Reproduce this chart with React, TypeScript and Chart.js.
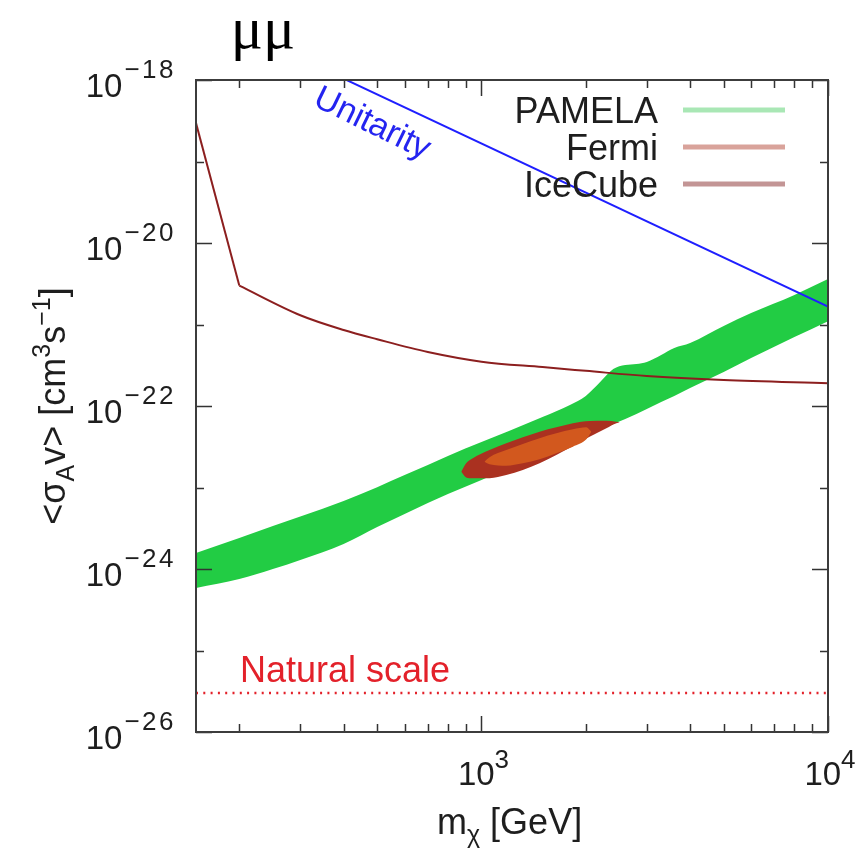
import React, { useEffect, useRef } from 'react';
import { Chart, registerables } from 'chart.js';

Chart.register(...registerables);

const SANS = '"Liberation Sans", Arial, Helvetica, sans-serif';
const SERIF = '"Liberation Serif", "Times New Roman", serif';

// Axis ranges
const massMin = 150;
const massMax = 10000;
const sigmaMin = 1e-26;
const sigmaMax = 1e-18;

// Tick marks and labels
const xMajorTicks = [1000, 10000];
const xTickExponents = ['3', '4'];
const xMinorTicks = [200, 300, 400, 500, 600, 700, 800, 900, 2000, 3000, 4000, 5000, 6000, 7000, 8000, 9000];
const yMajorTicks = [1e-26, 1e-24, 1e-22, 1e-20, 1e-18];
const yTickExponents = ['\u221226', '\u221224', '\u221222', '\u221220', '\u221218'];
const yMinorTicks = [1e-25, 1e-23, 1e-21, 1e-19];

// PAMELA-favoured band (upper and lower edges)
const pamelaMass = [150, 200, 250, 300, 400, 500, 600, 700, 800, 1000, 1200, 1500, 1800, 2000, 2200, 2400, 2600, 2800, 3000, 3300, 3600, 4000, 5000, 6000, 8000, 10000];
const pamelaUpper = [1.57e-24, 2.4e-24, 3.37e-24, 4.41e-24, 6.83e-24, 1.01e-23, 1.42e-23, 1.89e-23, 2.44e-23, 3.62e-23, 4.93e-23, 7.33e-23, 1.03e-22, 1.33e-22, 1.97e-22, 2.84e-22, 3.18e-22, 3.28e-22, 3.47e-22, 4.23e-22, 5.15e-22, 5.93e-22, 9.59e-22, 1.38e-21, 2.3e-21, 3.61e-21];
const pamelaLower = [5.85e-25, 7.54e-25, 1.0e-24, 1.29e-24, 2.03e-24, 3.28e-24, 4.73e-24, 6.45e-24, 8.32e-24, 1.24e-23, 1.73e-23, 2.58e-23, 3.62e-23, 4.35e-23, 5.22e-23, 6.02e-23, 6.92e-23, 7.98e-23, 9.18e-23, 1.12e-22, 1.33e-22, 1.66e-22, 2.61e-22, 3.88e-22, 7.03e-22, 1.1e-21];

// Combined fit contours (outer and inner regions)
const outerMass = [874, 903, 944, 1055, 1179, 1316, 1471, 1644, 1836, 2051, 2293, 2451, 2506];
const outerTop = [1.56e-23, 1.98e-23, 2.28e-23, 2.88e-23, 3.48e-23, 4.13e-23, 4.84e-23, 5.48e-23, 6.14e-23, 6.55e-23, 6.6e-23, 6.42e-23, 6.31e-23];
const outerBottom = [1.56e-23, 1.33e-23, 1.3e-23, 1.3e-23, 1.42e-23, 1.64e-23, 1.98e-23, 2.51e-23, 3.23e-23, 4.2e-23, 5.33e-23, 6.14e-23, 6.31e-23];
const innerMass = [1020, 1055, 1179, 1316, 1471, 1644, 1836, 2007, 2075];
const innerTop = [2.07e-23, 2.35e-23, 2.88e-23, 3.42e-23, 4.02e-23, 4.62e-23, 5.18e-23, 5.48e-23, 4.84e-23];
const innerBottom = [2.07e-23, 1.93e-23, 1.85e-23, 1.98e-23, 2.22e-23, 2.63e-23, 3.17e-23, 3.9e-23, 4.84e-23];

// IceCube limit
const iceCubeMass = [150, 200, 300, 400, 500, 700, 1000, 1500, 2000, 3000, 5000, 10000];
const iceCubeSigma = [2.96e-19, 3.0e-21, 1.3e-21, 8.57e-22, 6.6e-22, 4.6e-22, 3.5e-22, 3.0e-22, 2.7e-22, 2.33e-22, 2.08e-22, 1.9e-22];

// Unitarity bound
const unitarityMass = [400, 10000];
const unitaritySigma = [1.04e-18, 1.66e-21];

// Thermal relic cross section
const naturalMass = [150, 10000];
const naturalSigma = [3e-26, 3e-26];

// Legend
const legendLabels = ['PAMELA', 'Fermi', 'IceCube'];
const legendColors = ['#a9e7b5', '#d9a39b', '#c39595'];

const GREEN = '#22cc44';
const OUTER = '#aa3120';
const INNER = '#d2581e';
const TEXT = '#1e1e1e';

const pts = (xs: number[], ys: number[]) => xs.map((x, i) => ({ x, y: ys[i] }));

type Run = { text: string; size: number; dy?: number; family?: string; spacing?: number; gap?: number };

function setFont(ctx: CanvasRenderingContext2D, r: Run) {
  ctx.font = `${r.size}px ${r.family || SANS}`;
  (ctx as any).letterSpacing = `${r.spacing || 0}px`;
}

function runWidth(ctx: CanvasRenderingContext2D, runs: Run[]) {
  let w = 0;
  for (const r of runs) {
    setFont(ctx, r);
    w += ctx.measureText(r.text).width + (r.gap || 0);
  }
  return w;
}

function drawRuns(ctx: CanvasRenderingContext2D, runs: Run[], x: number, y: number, align: 'left' | 'center' | 'right') {
  const w = runWidth(ctx, runs);
  let cx = align === 'right' ? x - w : align === 'center' ? x - w / 2 : x;
  ctx.textAlign = 'left';
  ctx.textBaseline = 'alphabetic';
  for (const r of runs) {
    setFont(ctx, r);
    cx += r.gap || 0;
    ctx.fillText(r.text, cx, y + (r.dy || 0));
    cx += ctx.measureText(r.text).width;
  }
  (ctx as any).letterSpacing = '0px';
}

const decorations = {
  id: 'decorations',
  afterDatasetsDraw(chart: any) {
    const { ctx, chartArea: a, scales } = chart;
    const xs = scales.x;
    const ys = scales.y;
    ctx.save();

    // Tick marks on all four sides, pointing inwards
    ctx.strokeStyle = '#333';
    ctx.lineWidth = 1.5;
    const tickX = (v: number, len: number) => {
      const px = Math.round(xs.getPixelForValue(v)) + 0.5;
      ctx.beginPath();
      ctx.moveTo(px, a.bottom);
      ctx.lineTo(px, a.bottom - len);
      ctx.moveTo(px, a.top);
      ctx.lineTo(px, a.top + len);
      ctx.stroke();
    };
    const tickY = (v: number, len: number) => {
      const py = Math.round(ys.getPixelForValue(v)) + 0.5;
      ctx.beginPath();
      ctx.moveTo(a.left, py);
      ctx.lineTo(a.left + len, py);
      ctx.moveTo(a.right, py);
      ctx.lineTo(a.right - len, py);
      ctx.stroke();
    };
    xMinorTicks.forEach((v) => tickX(v, 8));
    xMajorTicks.forEach((v) => tickX(v, 16));
    yMinorTicks.forEach((v) => tickY(v, 8));
    yMajorTicks.forEach((v) => tickY(v, 16));

    // Frame
    ctx.strokeStyle = '#3c3c3c';
    ctx.lineWidth = 2;
    ctx.strokeRect(a.left, a.top, a.right - a.left, a.bottom - a.top);

    // Tick labels
    ctx.fillStyle = TEXT;
    yMajorTicks.forEach((v, i) => {
      const py = ys.getPixelForValue(v);
      drawRuns(ctx, [
        { text: '10', size: 33 },
        { text: yTickExponents[i], size: 26, dy: -19, spacing: 2.5, gap: 2 },
      ], 176, py + 17, 'right');
    });
    xMajorTicks.forEach((v, i) => {
      const px = xs.getPixelForValue(v);
      drawRuns(ctx, [
        { text: '10', size: 33 },
        { text: xTickExponents[i], size: 26, dy: -17 },
      ], px + 2, a.bottom + 53, 'center');
    });

    // Axis titles
    drawRuns(ctx, [
      { text: 'm', size: 36 },
      { text: '\u03c7', size: 25, dy: 9 },
      { text: ' [GeV]', size: 36 },
    ], 437, 834, 'left');

    ctx.save();
    ctx.translate(65, 406);
    ctx.rotate(-Math.PI / 2);
    drawRuns(ctx, [
      { text: '<\u03c3', size: 36 },
      { text: 'A', size: 25, dy: 9 },
      { text: 'v> [cm', size: 36 },
      { text: '3', size: 25, dy: -15 },
      { text: 's', size: 36 },
      { text: '\u22121', size: 25, dy: -15 },
      { text: ']', size: 36 },
    ], 0, 0, 'center');
    ctx.restore();

    // Title
    ctx.font = `60px ${SERIF}`;
    ctx.textAlign = 'center';
    ctx.textBaseline = 'alphabetic';
    ctx.fillStyle = '#000';
    ctx.fillText('\u03bc\u03bc', 263, 48);

    // Legend
    legendLabels.forEach((label, i) => {
      const base = 123 + 37 * i;
      ctx.font = `36px ${SANS}`;
      ctx.textAlign = 'right';
      ctx.fillStyle = TEXT;
      ctx.fillText(label, 658, base);
      ctx.strokeStyle = legendColors[i];
      ctx.lineWidth = 5;
      ctx.beginPath();
      ctx.moveTo(683, base - 13);
      ctx.lineTo(785, base - 13);
      ctx.stroke();
    });

    // Curve labels
    ctx.fillStyle = '#e3212a';
    ctx.font = `36px ${SANS}`;
    ctx.textAlign = 'left';
    ctx.fillText('Natural scale', 240, 682);

    ctx.save();
    ctx.translate(372, 124);
    ctx.rotate((26 * Math.PI) / 180);
    ctx.fillStyle = '#2424f0';
    ctx.font = `34px ${SANS}`;
    ctx.textAlign = 'center';
    ctx.textBaseline = 'middle';
    ctx.fillText('Unitarity', 0, 0);
    ctx.restore();

    ctx.restore();
  },
};

export default function App() {
  const canvasRef = useRef<HTMLCanvasElement | null>(null);

  useEffect(() => {
    const canvas = canvasRef.current;
    if (!canvas) return;
    const hidden = { pointRadius: 0, pointHoverRadius: 0 };
    const edge = (label: string, data: any[], color: string, fill: any, order: number) => ({
      label,
      data,
      borderColor: 'transparent',
      borderWidth: 0,
      backgroundColor: color,
      fill,
      cubicInterpolationMode: 'monotone' as const,
      order,
      ...hidden,
    });
    const chart = new Chart(canvas, {
      type: 'line',
      data: {
        datasets: [
          edge('PAMELA upper', pts(pamelaMass, pamelaUpper), GREEN, false, 4),
          edge('PAMELA', pts(pamelaMass, pamelaLower), GREEN, '-1', 4),
          edge('Fermi outer top', pts(outerMass, outerTop), OUTER, false, 3),
          edge('Fermi outer', pts(outerMass, outerBottom), OUTER, '-1', 3),
          edge('Fermi inner top', pts(innerMass, innerTop), INNER, false, 2),
          edge('Fermi inner', pts(innerMass, innerBottom), INNER, '-1', 2),
          {
            label: 'IceCube (low mass)',
            data: pts(iceCubeMass.slice(0, 2), iceCubeSigma.slice(0, 2)),
            borderColor: '#8c1f1f',
            borderWidth: 2,
            fill: false,
            tension: 0,
            order: 1,
            ...hidden,
          },
          {
            label: 'IceCube',
            data: pts(iceCubeMass.slice(1), iceCubeSigma.slice(1)),
            borderColor: '#8c1f1f',
            borderWidth: 2,
            fill: false,
            cubicInterpolationMode: 'monotone',
            order: 1,
            ...hidden,
          },
          {
            label: 'Unitarity',
            data: pts(unitarityMass, unitaritySigma),
            borderColor: '#1f1fff',
            borderWidth: 2,
            fill: false,
            order: 1,
            ...hidden,
          },
          {
            label: 'Natural scale',
            data: pts(naturalMass, naturalSigma),
            borderColor: '#e3212a',
            borderWidth: 2.5,
            borderDash: [2, 5.3],
            fill: false,
            order: 1,
            ...hidden,
          },
        ],
      },
      options: {
        animation: false,
        responsive: false,
        events: [],
        layout: { padding: { left: 196, right: 34, top: 80, bottom: 120 } },
        plugins: {
          legend: { display: false },
          tooltip: { enabled: false },
          title: { display: false },
        },
        scales: {
          x: { type: 'logarithmic', min: massMin, max: massMax, display: false },
          y: { type: 'logarithmic', min: sigmaMin, max: sigmaMax, display: false },
        },
      },
      plugins: [decorations],
    });
    return () => chart.destroy();
  }, []);

  return (
    <div style={{ position: 'absolute', left: 0, top: 0, width: 862, height: 852, background: '#fff' }}>
      <canvas ref={canvasRef} width={862} height={852} style={{ display: 'block' }} />
    </div>
  );
}
